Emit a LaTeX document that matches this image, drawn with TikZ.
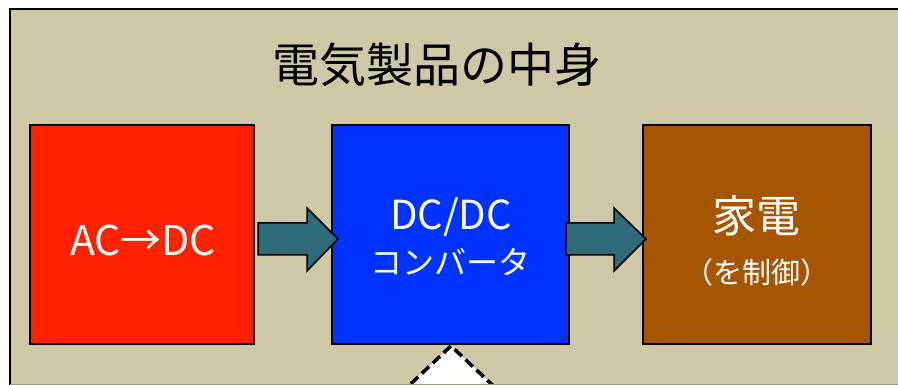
\documentclass[tikz,border=0pt]{standalone}
\usepackage{fontspec}
\setmainfont{Noto Sans CJK JP}
\definecolor{bgbeige}{HTML}{CEC8A6}
\definecolor{boxred}{HTML}{FF2200}
\definecolor{boxblue}{HTML}{0033FF}
\definecolor{boxbrown}{HTML}{A65600}
\definecolor{arrteal}{HTML}{2E6B78}
\definecolor{edgegray}{HTML}{9C9780}
\tikzset{
  blockbox/.style={draw=black, line width=2pt},
  boxtext/.style={text=white, inner sep=0pt},
  blockarrow/.style={draw=black, line width=1.5pt, fill=arrteal, line join=miter},
}
\begin{document}
\begin{tikzpicture}[x=1pt,y=-1pt]
\useasboundingbox (0,0) rectangle (898,385);
\clip (0,0) rectangle (898,385);
\fill[white] (0,0) rectangle (898,385);
\draw[fill=bgbeige, line width=2pt] (10,9) rectangle (910,395);
\node (title) at (437,65) {\fontsize{47}{52}\selectfont 電気製品の中身};
\draw[blockbox, fill=boxred] (30,125) rectangle (254,344);
\node[boxtext] (red) at (143,240) {\fontsize{41}{46}\selectfont AC→DC};
\draw[blockbox, fill=boxblue] (332,125) rectangle (569,344);
\node[boxtext] (blue1) at (451,217) {\fontsize{40}{46}\selectfont DC/DC};
\node[boxtext] (blue2) at (450,262) {\fontsize{32}{38}\selectfont コンバータ};
\draw[blockbox, fill=boxbrown] (643,125) rectangle (871,344);
\node[boxtext] (brown1) at (756,216) {\fontsize{44}{50}\selectfont 家電};
\node[boxtext] (brown2) at (757,272) {\fontsize{29}{34}\selectfont （を制御）};
\draw[blockarrow] (258,223) -- (307,223) -- (307,208) -- (338,239) -- (307,271) -- (307,255) -- (258,255) -- cycle;
\draw[blockarrow] (566,223) -- (614,223) -- (614,208) -- (646,239) -- (614,271) -- (614,255) -- (566,255) -- cycle;
\draw[fill=white, dash pattern=on 10pt off 5pt, line width=3.5pt] (400,394) -- (451,346) -- (502,394);
\draw[edgegray, line width=1.2pt] (10,384.6) -- (898,384.6);
\end{tikzpicture}
\end{document}
